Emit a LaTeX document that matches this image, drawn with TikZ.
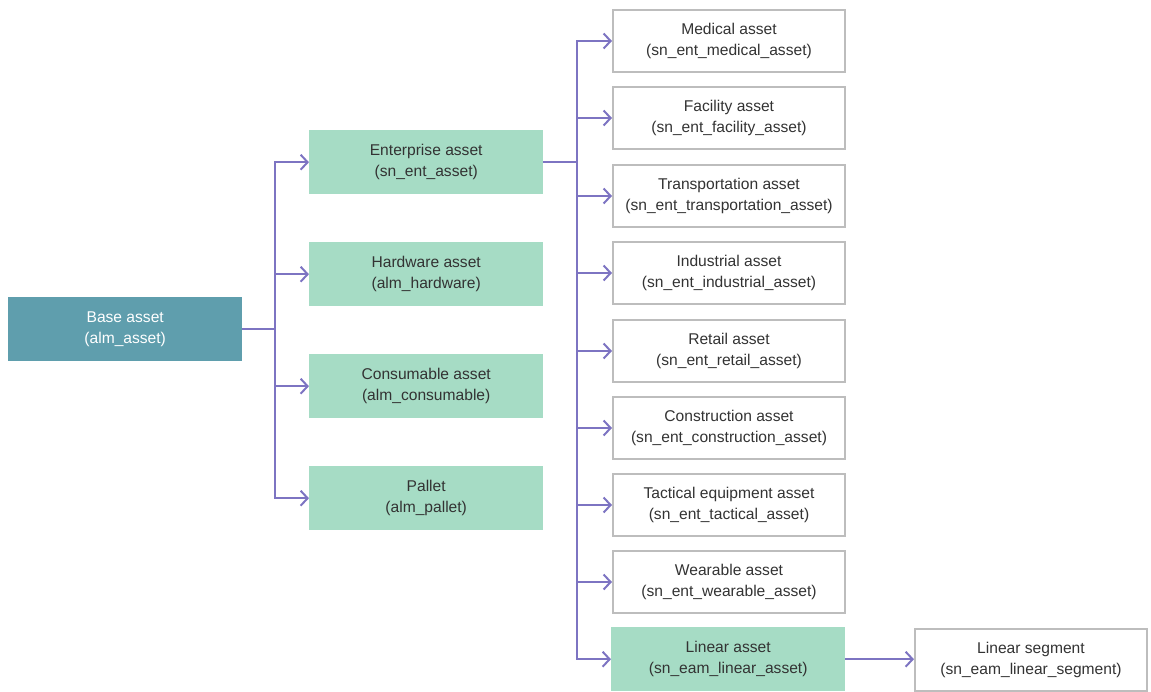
\documentclass[tikz,border=0pt]{standalone}
\usepackage{fontspec}
\setmainfont{Liberation Sans}
\usetikzlibrary{arrows.meta}
\definecolor{teal1}{HTML}{5F9EAD}
\definecolor{green1}{HTML}{A6DCC5}
\definecolor{purp}{HTML}{7D74C2}
\definecolor{grayb}{HTML}{BDBDBD}
\definecolor{txt}{HTML}{333333}
\tikzset{
  box/.style={anchor=north west, minimum width=234pt, minimum height=64pt, inner sep=0pt,
    align=center, font=\fontsize{15.6}{21.5}\selectfont, text=txt},
  basebox/.style={box, fill=teal1, text=white},
  greenbox/.style={box, fill=green1},
  whitebox/.style={box, draw=grayb, line width=2pt, fill=white, minimum width=232pt, minimum height=62pt},
  conn/.style={draw=purp, line width=2pt},
  arr/.style={conn, -{Straight Barb[length=7pt,width=15pt,line width=2pt]}}
}
\begin{document}
\begin{tikzpicture}[x=1pt,y=-1pt]
\useasboundingbox (0,0) rectangle (1151,691);
\node[basebox] (base) at (8,297) {Base asset\\(alm\_asset)};
\node[greenbox] (ent) at (309,130) {Enterprise asset\\(sn\_ent\_asset)};
\node[greenbox] (hw) at (309,242) {Hardware asset\\(alm\_hardware)};
\node[greenbox] (con) at (309,354) {Consumable asset\\(alm\_consumable)};
\node[greenbox] (pal) at (309,466) {Pallet\\(alm\_pallet)};

\node[whitebox] (med) at (612,9) {Medical asset\\(sn\_ent\_medical\_asset)};
\node[whitebox] (fac) at (612,86) {Facility asset\\(sn\_ent\_facility\_asset)};
\node[whitebox] (tra) at (612,164) {Transportation asset\\(sn\_ent\_transportation\_asset)};
\node[whitebox] (ind) at (612,241) {Industrial asset\\(sn\_ent\_industrial\_asset)};
\node[whitebox] (ret) at (612,319) {Retail asset\\(sn\_ent\_retail\_asset)};
\node[whitebox] (cst) at (612,396) {Construction asset\\(sn\_ent\_construction\_asset)};
\node[whitebox] (tac) at (612,473) {Tactical equipment asset\\(sn\_ent\_tactical\_asset)};
\node[whitebox] (wea) at (612,550) {Wearable asset\\(sn\_ent\_wearable\_asset)};
\node[greenbox] (lin) at (611,627) {Linear asset\\(sn\_eam\_linear\_asset)};
\node[whitebox] (seg) at (914,628) {Linear segment\\(sn\_eam\_linear\_segment)};

\coordinate (t1) at (275,0);
\coordinate (t2) at (577,0);
\draw[conn] (base.east) -- (base.east -| t1);
\foreach \n in {ent,hw,con,pal}
  \draw[arr] (base.east -| t1) |- (\n.west);
\draw[conn] (ent.east) -- (ent.east -| t2);
\foreach \n in {med,fac,tra,ind,ret,cst,tac,wea,lin}
  \draw[arr] (ent.east -| t2) |- (\n.west);
\draw[arr] (lin.east) -- (lin.east -| seg.west);
\end{tikzpicture}
\end{document}
